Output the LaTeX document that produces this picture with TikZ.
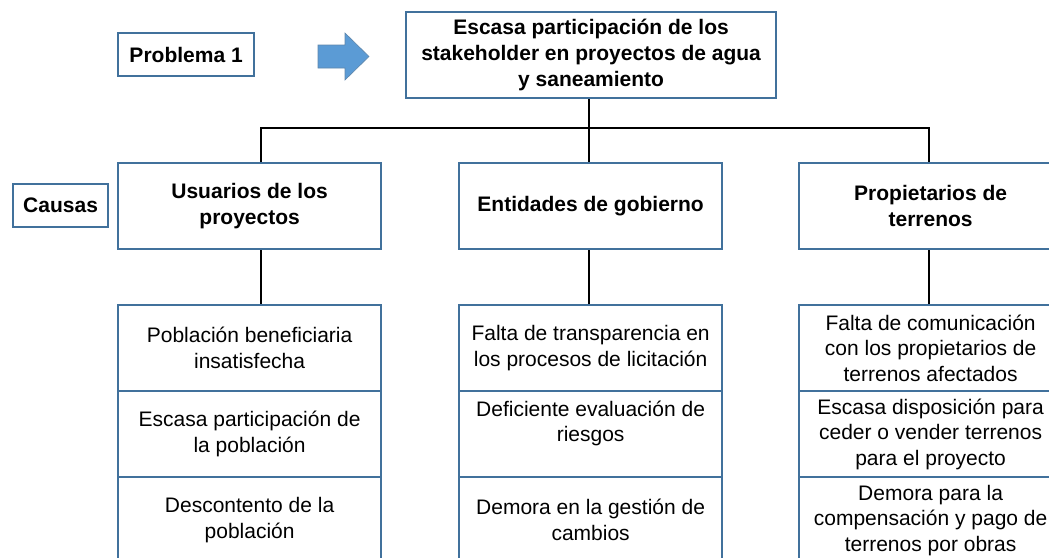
\documentclass[tikz,border=0pt]{standalone}
\usepackage{fontspec}
\setmainfont{Liberation Sans}
\definecolor{bord}{RGB}{65,113,156}
\definecolor{arrowfill}{RGB}{91,155,213}
\begin{document}
\begin{tikzpicture}[x=1pt,y=-1pt,
  box/.style={draw=bord,line width=2.2pt,fill=white,inner sep=0pt,align=center,anchor=north west},
  hd/.style={box,font=\bfseries\fontsize{21}{26}\selectfont},
  mid/.style={hd,minimum width=263pt,minimum height=86pt},
  cell/.style={box,font=\fontsize{21}{25.5}\selectfont,minimum width=263pt,minimum height=86pt},
  link/.style={draw=black,line width=2pt}]
\useasboundingbox (0,0) rectangle (1049,557);
\clip (0,0) rectangle (1049,557);
% links first
\coordinate (ja) at (261,128);
\coordinate (jm) at (589,128);
\coordinate (jb) at (929,128);
% header nodes
\node[hd,minimum width=370pt,minimum height=86pt] (top) at (405,11) {Escasa participación de los\\stakeholder en proyectos de agua\\y saneamiento};
\node[hd,minimum width=136pt,minimum height=43pt] (prob) at (117,32) {Problema 1};
\node[hd,minimum width=95pt,minimum height=43pt] (causas) at (12,183) {Causas};
\fill[arrowfill,draw=bord!85,line width=0.6pt] (318,45) -- (345,45) -- (345,33) -- (369,56.5) -- (345,80) -- (345,68) -- (318,68) -- cycle;
% middle level
\node[mid] (usr) at (117,162) {Usuarios de los\\proyectos};
\node[mid] (ent) at (458,162) {Entidades de gobierno};
\node[mid] (own) at (798,162) {Propietarios de\\terrenos};
% cells column 1
\node[cell] (u1) at (117,304) {Población beneficiaria\\insatisfecha};
\node[cell] (u2) at (117,390) {Escasa participación de\\la población};
\node[cell] (u3) at (117,476) {Descontento de la\\población};
% cells column 2
\node[cell] (e1) at (458,304) {Falta de transparencia en\\los procesos de licitación};
\node[cell] (e2) at (458,390) {Deficiente evaluación de\\riesgos\\\mbox{}};
\node[cell] (e3) at (458,476) {Demora en la gestión de\\cambios};
% cells column 3
\node[cell] (o1) at (798,304) {Falta de comunicación\\con los propietarios de\\terrenos afectados};
\node[cell] (o2) at (798,390) {Escasa disposición para\\ceder o vender terrenos\\para el proyecto};
\node[cell] (o3) at (798,476) {Demora para la\\compensación y pago de\\terrenos por obras};
% connectors
\draw[link] (top.south -| jm) -- (jm);
\draw[link] (usr.north -| ja) -- (ja) -- (jb) -- (own.north -| jb);
\draw[link] (jm) -- (ent.north -| jm);
\draw[link] (usr.south -| ja) -- (u1.north -| ja);
\draw[link] (ent.south -| jm) -- (e1.north -| jm);
\draw[link] (own.south -| jb) -- (o1.north -| jb);
\end{tikzpicture}
\end{document}
